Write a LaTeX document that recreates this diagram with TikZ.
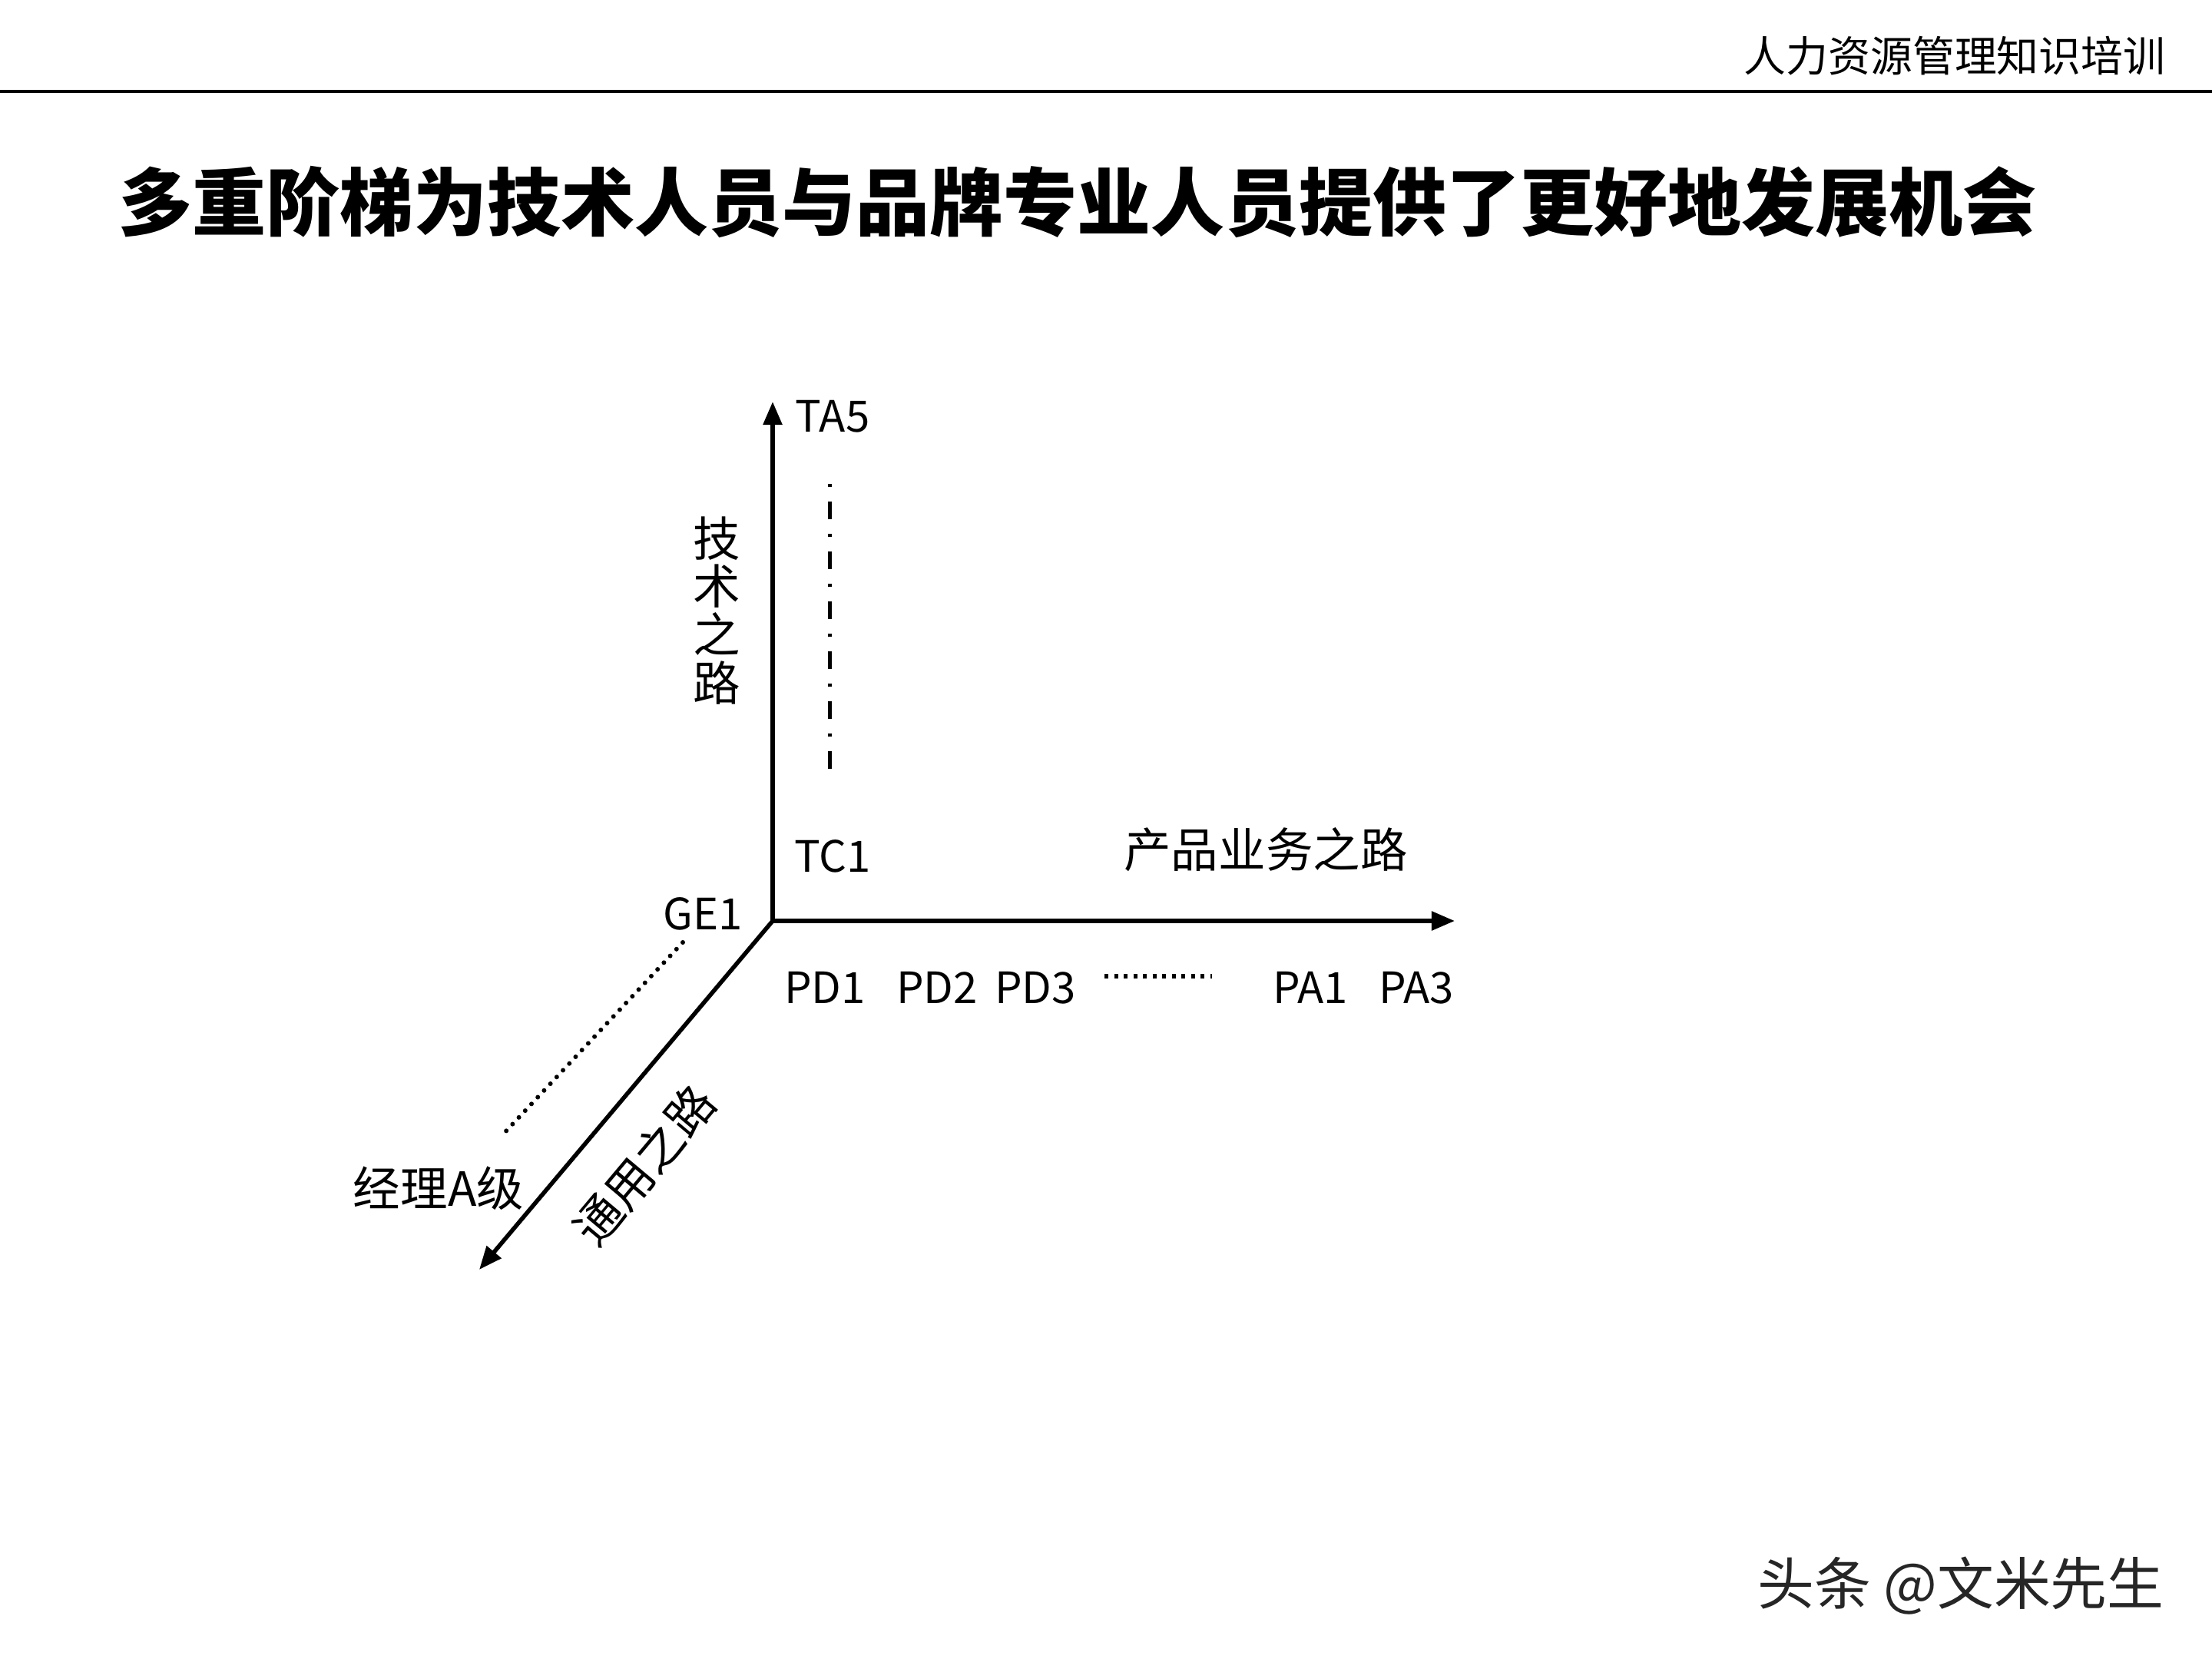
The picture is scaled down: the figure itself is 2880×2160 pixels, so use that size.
\documentclass[tikz,border=0pt]{standalone}
\usepackage{fontspec}
\setmainfont{Noto Sans CJK SC}
\usetikzlibrary{arrows.meta}
\begin{document}
\begin{tikzpicture}[x=0.01cm,y=-0.01cm,
  axis/.style={line width=0.055cm,-{Triangle[length=0.3cm,width=0.24cm]}},
  lbl/.style={inner sep=0pt,font=\fontsize{16}{19}\selectfont},
  cjk/.style={inner sep=0pt,font=\fontsize{17.5}{21}\selectfont},
  dashdotline/.style={line width=0.05cm,dash pattern=on 0.04cm off 0.19cm on 0.23cm off 0.19cm},
  dotline/.style={line width=0.06cm,line cap=round,dash pattern=on 0pt off 0.12cm},
  sqdots/.style={line width=0.055cm,dash pattern=on 0.05cm off 0.075cm},
]
\useasboundingbox (0,0) rectangle (2880,2160);
% header
\draw[line width=0.045cm] (0,119) -- (2880,119);
\node[inner sep=0pt,anchor=east,font=\fontsize{15.6}{18}\selectfont] (hdr) at (2820,73) {人力资源管理知识培训};
\node[inner sep=0pt,font=\fontsize{27.3}{32}\selectfont\bfseries] (title) at (1403,263) {多重阶梯为技术人员与品牌专业人员提供了更好地发展机会};
% axes
\coordinate (O) at (1006,1199);
\coordinate (Ytip) at (1006,523);
\coordinate (Xtip) at (1894,1199);
\coordinate (Ztip) at (624,1653);
\draw[axis] (O) -- (Ytip);
\draw[axis] (O) -- (Xtip);
\draw[axis] (O) -- (Ztip);
% labels
\node[lbl] (ta5) at (1084,542) {TA5};
\node[lbl] (tc1) at (1084,1115) {TC1};
\coordinate (dtop) at (1080,630);
\coordinate (dbot) at (1080,1007);
\draw[dashdotline] (dtop) -- (dbot);
\node[cjk,align=center,font=\fontsize{17.5}{17.9}\selectfont] (tech) at (933,795) {技\\术\\之\\路};
\node[cjk] (prod) at (1648,1106) {产品业务之路};
\node[lbl] (ge1) at (915,1190) {GE1};
\node[lbl] (pd1) at (1074,1286) {PD1};
\node[lbl] (pd2) at (1220,1286) {PD2};
\node[lbl] (pd3) at (1348,1286) {PD3};
\node[lbl] (pa1) at (1706,1286) {PA1};
\node[lbl] (pa3) at (1844,1286) {PA3};
\coordinate (h1) at (1438,1271);
\coordinate (h2) at (1578,1271);
\draw[sqdots] (h1) -- (h2);
\coordinate (g1) at (889,1227);
\coordinate (g2) at (652,1480);
\draw[dotline] (g1) -- (g2);
\node[cjk] (mgr) at (571,1547) {经理A级};
\node[cjk,rotate=50] (gen) at (839,1517) {通用之路};
% watermark
\node[inner sep=0pt,font=\fontsize{21}{25}\selectfont,text=black!85] (wm) at (2553,2065) {头条 @文米先生};
\end{tikzpicture}
\end{document}
